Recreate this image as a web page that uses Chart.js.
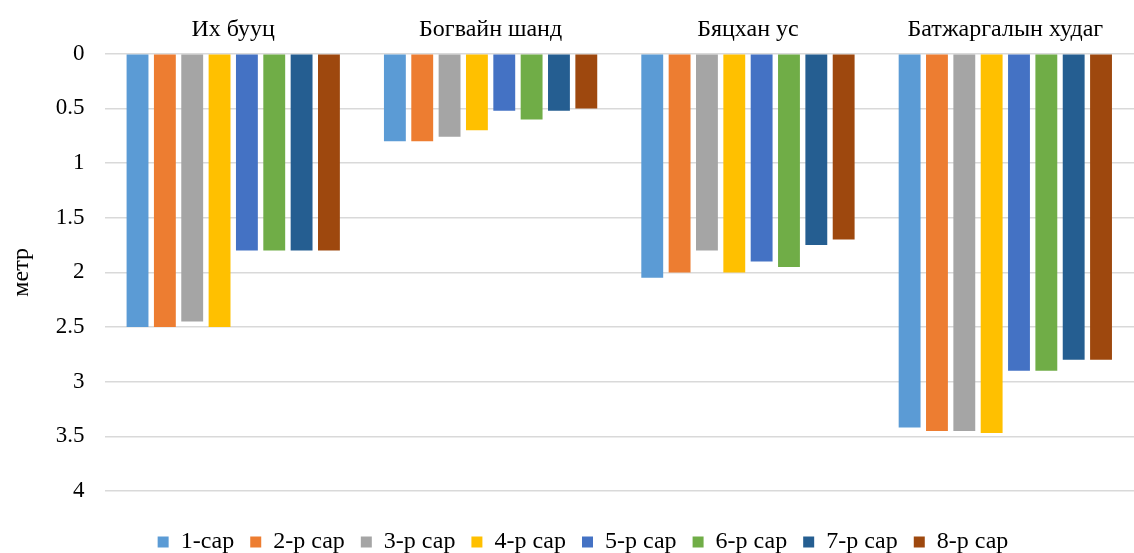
<!DOCTYPE html>
<html>
<head>
<meta charset="utf-8">
<script src="https://cdn.jsdelivr.net/npm/chart.js@4"></script>
<style>
    html, body { margin: 0; padding: 0; background: #fff; }
    #wrap { width: 1134px; height: 553px; }
</style>
</head>
<body>
<div id="wrap"><canvas id="bar-chart"></canvas></div>
<script>
// худгийн нэрс
var wells = ['Их бууц', 'Богвайн шанд', 'Бяцхан ус', 'Батжаргалын худаг'];
var seriesNames = ['1-сар', '2-р сар', '3-р сар', '4-р сар', '5-р сар', '6-р сар', '7-р сар', '8-р сар'];
var seriesColors = ['#5b9bd5', '#ed7d31', '#a5a5a5', '#ffc000', '#4472c4', '#70ad47', '#255e91', '#9e480e'];

// усны түвшин, метр (сар бүрээр)
var sar1 = [2.5, 0.8, 2.05, 3.42];
var sar2 = [2.5, 0.8, 2.0, 3.45];
var sar3 = [2.45, 0.76, 1.8, 3.45];
var sar4 = [2.5, 0.7, 2.0, 3.47];
var sar5 = [1.8, 0.52, 1.9, 2.9];
var sar6 = [1.8, 0.6, 1.95, 2.9];
var sar7 = [1.8, 0.52, 1.75, 2.8];
var sar8 = [1.8, 0.5, 1.7, 2.8];
var allValues = [sar1, sar2, sar3, sar4, sar5, sar6, sar7, sar8];

var yTicks = [0, 0.5, 1, 1.5, 2, 2.5, 3, 3.5, 4];

var datasets = [];
allValues.forEach(function (vals, i) {
    datasets.push({
        label: seriesNames[i],
        data: vals,
        backgroundColor: seriesColors[i],
        borderWidth: 0,
        categoryPercentage: 0.85,
        barPercentage: 0.8
    });
});

var serif = "'Liberation Serif', 'Times New Roman', serif";

// legend-ийг доош, баруун тийш бага зэрэг зөөх
var legendShift = {
    id: 'legendShift',
    afterLayout: function (chart) {
        chart.legend.top += 23;
        chart.legend.bottom += 23;
        chart.legend.left += 15;
        chart.legend.right += 15;
    }
};

var chart = new Chart(document.getElementById('bar-chart'), {
    type: 'bar',
    data: { labels: wells, datasets: datasets },
    plugins: [legendShift],
    options: {
        responsive: true,
        maintainAspectRatio: false,
        animation: false,
        layout: { padding: { left: 2, right: 0, top: 5, bottom: 12 } },
        scales: {
            x: {
                position: 'top',
                grid: { display: false, drawTicks: false },
                border: { display: false },
                ticks: { color: '#000', font: { family: serif, size: 24 }, padding: 10 }
            },
            y: {
                reverse: true,
                min: 0,
                max: 4,
                afterBuildTicks: function (axis) {
                    axis.ticks = yTicks.map(function (v) { return { value: v }; });
                },
                grid: { color: '#d9d9d9', lineWidth: 1.5, drawTicks: false },
                border: { display: false },
                ticks: {
                    color: '#000',
                    font: { family: serif, size: 23 },
                    padding: 20,
                    callback: function (v) { return String(v); }
                },
                title: {
                    display: true,
                    text: 'метр',
                    color: '#000',
                    font: { family: serif, size: 24 },
                    padding: { top: 5, bottom: 0 }
                }
            }
        },
        plugins: {
            legend: {
                position: 'bottom',
                labels: {
                    color: '#000',
                    font: { family: serif, size: 24 },
                    boxWidth: 11,
                    boxHeight: 11,
                    padding: 16
                }
            },
            tooltip: { enabled: false }
        }
    }
});
</script>
</body>
</html>
